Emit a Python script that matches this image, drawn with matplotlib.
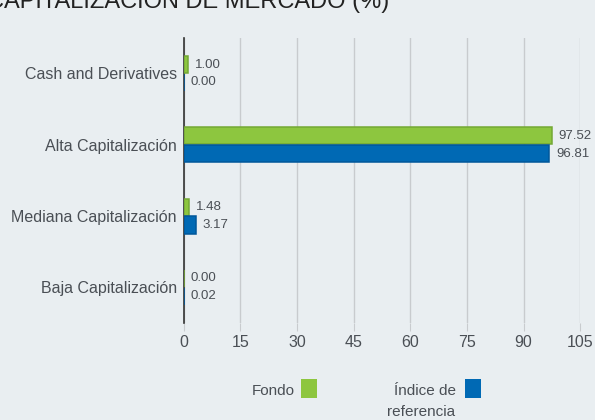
import numpy as np
import matplotlib.pyplot as plt
from matplotlib.patches import Rectangle

categories = ["Cash and Derivatives", "Alta Capitalización",
              "Mediana Capitalización", "Baja Capitalización"]
fondo = [1.00, 97.52, 1.48, 0.00]
indice = [0.00, 96.81, 3.17, 0.02]
xticks = [0, 15, 30, 45, 60, 75, 90, 105]

bg = "#e9eef1"
green, green_edge = "#8dc63f", "#74a834"
blue, blue_edge = "#0069b4", "#00579a"
txt = "#4a4f55"

plt.rcParams["font.family"] = ["Liberation Sans", "DejaVu Sans"]

fig = plt.figure(figsize=(5.95, 4.2), dpi=100, facecolor=bg)
ax = fig.add_axes([0.309, 0.231, 0.666, 0.679], facecolor=bg)

y = np.arange(len(categories))
h = 0.24
# bars sit above the axis line so zero values still show as a thin coloured line
ax.barh(y - h / 2 - 0.005, fondo, height=h, color=green, edgecolor=green_edge, linewidth=1.1, zorder=5)
ax.barh(y + h / 2 + 0.005, indice, height=h, color=blue, edgecolor=blue_edge, linewidth=1.1, zorder=5)

for yi, v in zip(y - h / 2 - 0.005, fondo):
    ax.annotate(f"{v:.2f}", (v, yi), xytext=(5, 0), textcoords="offset points",
                va="center", ha="left", fontsize=9.5, color=txt)
for yi, v in zip(y + h / 2 + 0.005, indice):
    ax.annotate(f"{v:.2f}", (v, yi), xytext=(5, 0), textcoords="offset points",
                va="center", ha="left", fontsize=9.5, color=txt)

ax.set_ylim(len(categories) - 0.5, -0.5)
ax.set_xlim(0, 105)
ax.set_yticks(y)
ax.set_yticklabels(categories, fontsize=11.5, color=txt)
ax.set_xticks(xticks)
ax.set_xticklabels([str(t) for t in xticks], fontsize=11.5, color=txt)
ax.tick_params(axis="y", length=0, pad=5)
ax.tick_params(axis="x", length=6, color="#c8cbce", pad=3)
ax.grid(axis="x", color="#c8cbce", linewidth=1, zorder=0)
for s in ["top", "right", "bottom"]:
    ax.spines[s].set_visible(False)
ax.spines["left"].set_color("#333333")
ax.spines["left"].set_linewidth(1.2)
ax.spines["left"].set_zorder(4)

# title, partially cut at the top
fig.text(-0.022, 0.981, "CAPITALIZACIÓN DE MERCADO (%)", fontsize=17,
         color="#222222", ha="left", va="baseline")

# legend
fig.text(295 / 595, 1 - 391 / 420, "Fondo", fontsize=11, color=txt, ha="right", va="center")
fig.patches.append(Rectangle((301 / 595, 1 - 398 / 420), 16 / 595, 19 / 420,
                             transform=fig.transFigure, facecolor=green, edgecolor="none"))
fig.text(456 / 595, 1 - 391 / 420, "Índice de", fontsize=11, color=txt, ha="right", va="center")
fig.text(421 / 595, 1 - 412 / 420, "referencia", fontsize=11, color=txt, ha="center", va="center")
fig.patches.append(Rectangle((465 / 595, 1 - 398 / 420), 16 / 595, 19 / 420,
                             transform=fig.transFigure, facecolor=blue, edgecolor="none"))

fig.savefig("out.png", dpi=100, facecolor=bg)
